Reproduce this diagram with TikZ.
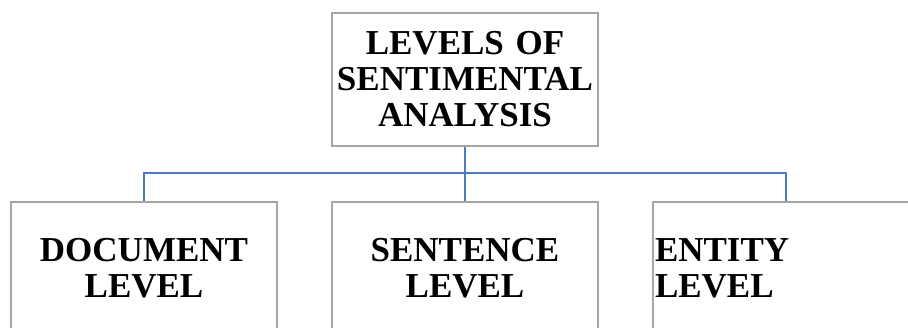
\documentclass[tikz,border=0pt]{standalone}
\usepackage{fontspec}
\setmainfont{Liberation Serif}

\definecolor{boxgray}{RGB}{166,166,166}
\definecolor{linkblue}{RGB}{74,126,187}

\begin{document}
\begin{tikzpicture}[
      x=1pt, y=1pt,
      level box/.style={draw=boxgray, line width=2pt, minimum width=266pt, minimum height=133pt,
        text width=262pt, inner xsep=2pt, inner ysep=0pt, align=center,
        font=\fontsize{35}{36}\selectfont\bfseries},
      branch/.style={draw=linkblue, line width=2pt}
    ]
    \clip (0,0) rectangle (908,-327);

    % Root of the tree
    \node (levels) [level box] at (465,-79.5) {LEVELS OF\\SENTIMENTAL\\ANALYSIS};

    % The three levels underneath
    \node (sentence) [level box, below of=levels, node distance=189pt] {SENTENCE\\LEVEL};
    \node (document) [level box, left of=sentence, node distance=321pt] {DOCUMENT\\LEVEL};
    \node (entity) [level box, right of=sentence, node distance=321pt, align=left] {ENTITY\\LEVEL};

    % Connectors
    \draw[branch] (levels) -- (sentence);
    \draw[branch] (document.north) -- ++(0,28) -| (entity.north);
  \end{tikzpicture}
\end{document}
